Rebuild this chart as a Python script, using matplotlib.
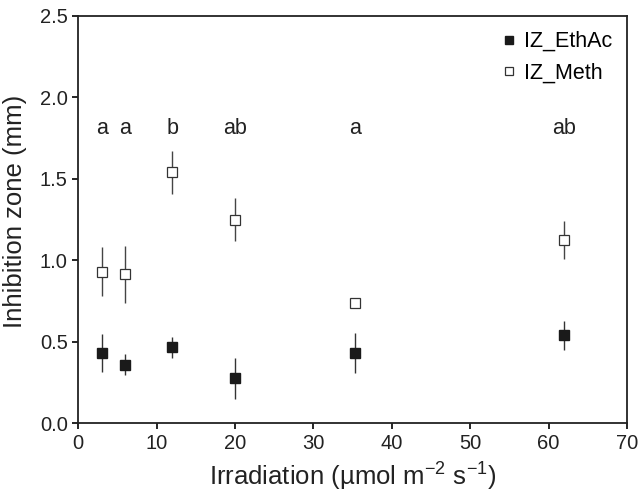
import matplotlib.pyplot as plt
from matplotlib.lines import Line2D

plt.rcParams['font.family'] = ['Liberation Sans', 'DejaVu Sans']
plt.rcParams['mathtext.fontset'] = 'custom'
plt.rcParams['mathtext.rm'] = 'Liberation Sans'

# irradiation levels (umol m-2 s-1)
irr = [3, 6, 12, 20, 35.3, 62]

# inhibition zone, ethyl acetate extract
ethac = [0.43, 0.36, 0.465, 0.275, 0.43, 0.54]
ethac_err = [0.115, 0.065, 0.065, 0.125, 0.123, 0.09]

# inhibition zone, methanol extract
meth = [0.93, 0.915, 1.54, 1.25, 0.735, 1.125]
meth_err = [0.15, 0.175, 0.13, 0.13, 0.03, 0.115]

letters = ['a', 'a', 'b', 'ab', 'a', 'ab']
letter_y = 1.81

fig, ax = plt.subplots(figsize=(6.41, 4.99), dpi=100)
fig.subplots_adjust(left=0.122, right=0.978, top=0.968, bottom=0.152)

ax.errorbar(irr, ethac, yerr=ethac_err, fmt='s', color='#1a1a1a', ms=7.5,
            ecolor='#333333', elinewidth=1, capsize=0)
ax.errorbar(irr, meth, yerr=meth_err, fmt='s', mfc='white', mec='#333333',
            mew=0.9, ms=7, ecolor='#444444', elinewidth=1, capsize=0)

for x, t in zip(irr, letters):
    ax.text(x, letter_y, t, ha='center', va='center', fontsize=15.5,
            color='#222222')

ax.set_xlim(0, 70)
ax.set_ylim(0, 2.5)
ax.set_xticks(range(0, 71, 10))
ax.set_yticks([0, 0.5, 1.0, 1.5, 2.0, 2.5])
ax.set_yticklabels(['0.0', '0.5', '1.0', '1.5', '2.0', '2.5'])
ax.tick_params(direction='out', length=4, labelsize=14.5, width=1.2,
               labelcolor='#222222')
for s in ax.spines.values():
    s.set_linewidth(1.3)
    s.set_color('#222222')

ax.set_xlabel('Irradiation (µmol m$^{-2}$ s$^{-1}$)', fontsize=18.5,
              color='#222222', labelpad=5)
ax.set_ylabel('Inhibition zone (mm)', fontsize=18.5, color='#222222',
              labelpad=6)
ax.yaxis.set_label_coords(-0.093, 0.52)

handles = [
    Line2D([], [], ls='none', marker='s', ms=6, color='#1a1a1a'),
    Line2D([], [], ls='none', marker='s', ms=6, mfc='white', mec='#333333',
           mew=0.9),
]
ax.legend(handles, ['IZ_EthAc', 'IZ_Meth'], loc='upper right', frameon=False,
          fontsize=15.5, handletextpad=0.1, handlelength=1.2,
          borderaxespad=0.3, labelspacing=0.5)

fig.savefig('out.png')
